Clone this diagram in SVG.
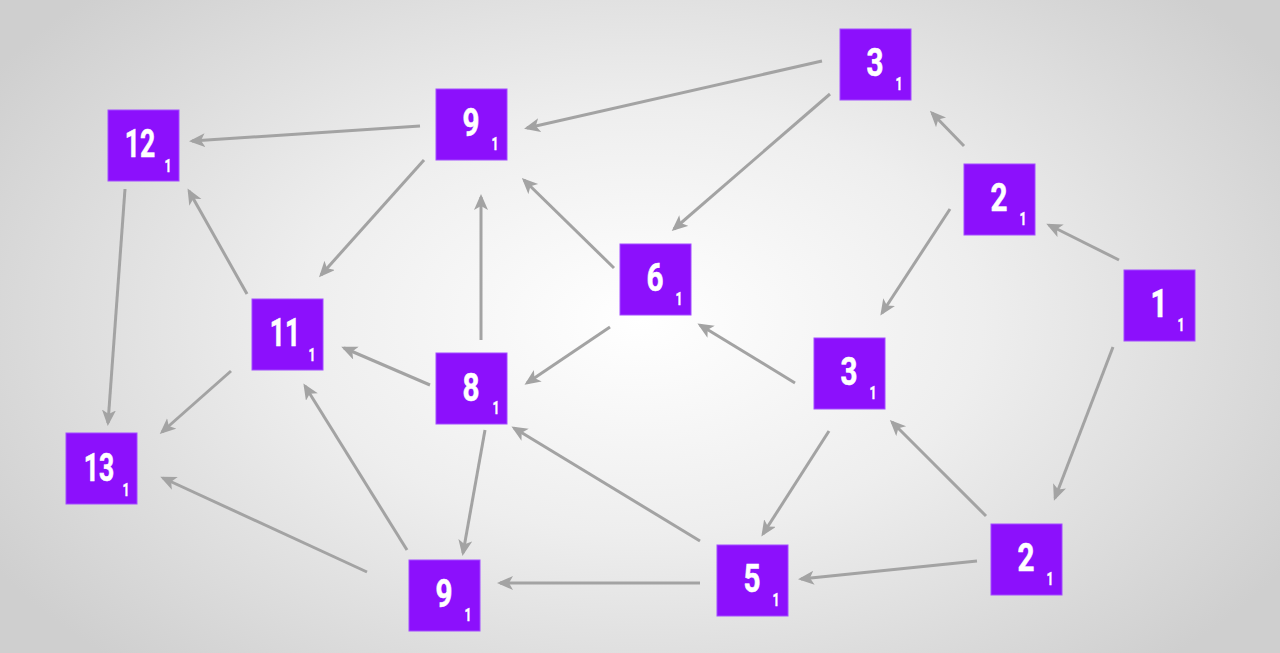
<svg xmlns="http://www.w3.org/2000/svg" width="1280" height="653" viewBox="0 0 1280 653">
  <defs>
    <radialGradient id="bg" cx="640" cy="320" r="760" gradientUnits="userSpaceOnUse" gradientTransform="translate(640 320) scale(1 0.62) translate(-640 -320)">
      <stop offset="0" stop-color="#ffffff"/>
      <stop offset="0.45" stop-color="#eeeeee"/>
      <stop offset="1" stop-color="#cfcfcf"/>
    </radialGradient>
    <marker id="ah" markerUnits="userSpaceOnUse" markerWidth="18" markerHeight="16" refX="13" refY="7" orient="auto">
      <path d="M0,0 L16,7 L0,14 L4,7 z" fill="#a3a3a3"/>
    </marker>
    <style>
      .e { stroke: #a3a3a3; stroke-width: 3; fill: none; marker-end: url(#ah); }
      .n rect { fill: #8c10fc; stroke: #a24cff; stroke-width: 1; }
      .m { fill: #ffffff; stroke: #ffffff; stroke-width: 0.6; font-family: Roboto, "Liberation Sans", sans-serif; font-weight: bold; font-size: 38px; text-anchor: middle; }
      .s { fill: #ffffff; stroke: #ffffff; stroke-width: 0.4; font-family: Roboto, "Liberation Sans", sans-serif; font-weight: bold; font-size: 18px; text-anchor: middle; }
    </style>
  </defs>
  <rect x="0" y="0" width="1280" height="653" fill="url(#bg)"/>

  <g id="connectors">
    <line class="e" x1="822" y1="61" x2="527" y2="128"/>
    <line class="e" x1="420" y1="126" x2="192" y2="141"/>
    <line class="e" x1="830" y1="94" x2="674" y2="229"/>
    <line class="e" x1="964" y1="146" x2="932" y2="113"/>
    <line class="e" x1="1119" y1="260" x2="1049" y2="225"/>
    <line class="e" x1="950" y1="209" x2="882" y2="313"/>
    <line class="e" x1="1113" y1="347" x2="1055" y2="498"/>
    <line class="e" x1="614" y1="268" x2="524" y2="180"/>
    <line class="e" x1="610" y1="327" x2="527" y2="383"/>
    <line class="e" x1="795" y1="383" x2="700" y2="325"/>
    <line class="e" x1="481" y1="340" x2="481" y2="197"/>
    <line class="e" x1="424" y1="160" x2="321" y2="275"/>
    <line class="e" x1="247" y1="294" x2="189" y2="191"/>
    <line class="e" x1="125" y1="189" x2="108" y2="423"/>
    <line class="e" x1="231" y1="371" x2="162" y2="432"/>
    <line class="e" x1="430" y1="385" x2="344" y2="348"/>
    <line class="e" x1="485" y1="430" x2="463" y2="553"/>
    <line class="e" x1="407" y1="550" x2="305" y2="386"/>
    <line class="e" x1="367" y1="572" x2="163" y2="478"/>
    <line class="e" x1="700" y1="541" x2="514" y2="428"/>
    <line class="e" x1="700" y1="583" x2="500" y2="583"/>
    <line class="e" x1="829" y1="431" x2="763" y2="534"/>
    <line class="e" x1="986" y1="516" x2="892" y2="422"/>
    <line class="e" x1="977" y1="561" x2="801" y2="579"/>
  </g>

  <g id="n3a" class="n" transform="translate(840 29)">
    <rect width="71" height="71"/>
    <text class="m" transform="translate(35 47) scale(0.78 1)">3</text>
    <text class="s" x="59" y="61" textLength="7" lengthAdjust="spacingAndGlyphs">1</text>
  </g>
  <g id="n9a" class="n" transform="translate(436 89)">
    <rect width="71" height="71"/>
    <text class="m" transform="translate(35 47) scale(0.78 1)">9</text>
    <text class="s" x="59" y="61" textLength="7" lengthAdjust="spacingAndGlyphs">1</text>
  </g>
  <g id="n12" class="n" transform="translate(108 110)">
    <rect width="71" height="71"/>
    <text class="m" transform="translate(32 47) scale(0.7 1)">12</text>
    <text class="s" x="60" y="62" textLength="7" lengthAdjust="spacingAndGlyphs">1</text>
  </g>
  <g id="n2a" class="n" transform="translate(964 164)">
    <rect width="71" height="71"/>
    <text class="m" transform="translate(35 47) scale(0.78 1)">2</text>
    <text class="s" x="59" y="61" textLength="7" lengthAdjust="spacingAndGlyphs">1</text>
  </g>
  <g id="n6" class="n" transform="translate(620 244)">
    <rect width="71" height="71"/>
    <text class="m" transform="translate(35 47) scale(0.78 1)">6</text>
    <text class="s" x="59" y="61" textLength="7" lengthAdjust="spacingAndGlyphs">1</text>
  </g>
  <g id="n1" class="n" transform="translate(1124 270)">
    <rect width="71" height="71"/>
    <text class="m" transform="translate(35 47) scale(0.78 1)">1</text>
    <text class="s" x="57" y="61" textLength="7" lengthAdjust="spacingAndGlyphs">1</text>
  </g>
  <g id="n11" class="n" transform="translate(252 299)">
    <rect width="71" height="71"/>
    <text class="m" transform="translate(33 47) scale(0.7 1)">11</text>
    <text class="s" x="60" y="62" textLength="7" lengthAdjust="spacingAndGlyphs">1</text>
  </g>
  <g id="n3b" class="n" transform="translate(814 338)">
    <rect width="71" height="71"/>
    <text class="m" transform="translate(35 47) scale(0.78 1)">3</text>
    <text class="s" x="59" y="61" textLength="7" lengthAdjust="spacingAndGlyphs">1</text>
  </g>
  <g id="n8" class="n" transform="translate(436 353)">
    <rect width="71" height="71"/>
    <text class="m" transform="translate(35 48) scale(0.78 1)">8</text>
    <text class="s" x="60" y="61" textLength="7" lengthAdjust="spacingAndGlyphs">1</text>
  </g>
  <g id="n13" class="n" transform="translate(66 433)">
    <rect width="71" height="71"/>
    <text class="m" transform="translate(33 48) scale(0.7 1)">13</text>
    <text class="s" x="60" y="63" textLength="7" lengthAdjust="spacingAndGlyphs">1</text>
  </g>
  <g id="n2b" class="n" transform="translate(991 524)">
    <rect width="71" height="71"/>
    <text class="m" transform="translate(35 47) scale(0.78 1)">2</text>
    <text class="s" x="59" y="61" textLength="7" lengthAdjust="spacingAndGlyphs">1</text>
  </g>
  <g id="n5" class="n" transform="translate(717 545)">
    <rect width="71" height="71"/>
    <text class="m" transform="translate(35 47) scale(0.78 1)">5</text>
    <text class="s" x="59" y="61" textLength="7" lengthAdjust="spacingAndGlyphs">1</text>
  </g>
  <g id="n9b" class="n" transform="translate(409 560)">
    <rect width="71" height="71"/>
    <text class="m" transform="translate(35 47) scale(0.78 1)">9</text>
    <text class="s" x="59" y="61" textLength="7" lengthAdjust="spacingAndGlyphs">1</text>
  </g>
</svg>
